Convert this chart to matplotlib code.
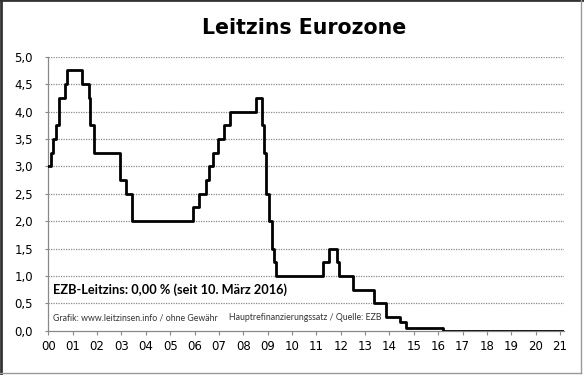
import matplotlib
matplotlib.use('Agg')
import matplotlib.pyplot as plt
from matplotlib.lines import Line2D
import pandas as pd

# EZB Hauptrefinanzierungssatz, Datum der Aenderung und neuer Satz (%)
change_dates = ['1999-11-05', '2000-02-04', '2000-03-17', '2000-04-28', '2000-06-09',
                '2000-09-06', '2000-10-11', '2001-05-15', '2001-08-31', '2001-09-18',
                '2001-11-09', '2002-12-06', '2003-03-07', '2003-06-06', '2005-12-06',
                '2006-03-08', '2006-06-15', '2006-08-09', '2006-10-11', '2006-12-13',
                '2007-03-14', '2007-06-13', '2008-07-09', '2008-10-15', '2008-11-12',
                '2008-12-10', '2009-01-21', '2009-03-11', '2009-04-08', '2009-05-13',
                '2011-04-13', '2011-07-13', '2011-11-09', '2011-12-14', '2012-07-11',
                '2013-05-08', '2013-11-13', '2014-06-11', '2014-09-10', '2016-03-16',
                '2021-03-01']
rates = [3.00, 3.25, 3.50, 3.75, 4.25,
         4.50, 4.75, 4.50, 4.25, 3.75,
         3.25, 2.75, 2.50, 2.00, 2.25,
         2.50, 2.75, 3.00, 3.25, 3.50,
         3.75, 4.00, 4.25, 3.75, 3.25,
         2.50, 2.00, 1.50, 1.25, 1.00,
         1.25, 1.50, 1.25, 1.00, 0.75,
         0.50, 0.25, 0.15, 0.05, 0.00,
         0.00]

years = list(range(2000, 2022))
year_labels = ['%02d' % (y % 100) for y in years]
y_ticks = [0.0, 0.5, 1.0, 1.5, 2.0, 2.5, 3.0, 3.5, 4.0, 4.5, 5.0]
y_labels = [('%.1f' % v).replace('.', ',') for v in y_ticks]

dates = pd.to_datetime(change_dates)

fig = plt.figure(figsize=(5.84, 3.75), dpi=100)
ax = fig.add_axes([0.0827, 0.1181, 0.883, 0.7307])

ax.step(dates, rates, where='post', color='black', lw=2.0, zorder=3)

ax.set_xlim(pd.Timestamp('2000-01-01'), pd.Timestamp('2021-03-01'))
ax.set_ylim(0, 5)

ax.set_xticks([pd.Timestamp('%d-01-01' % y) for y in years])
ax.set_xticklabels(year_labels)
ax.set_yticks(y_ticks)
ax.set_yticklabels(y_labels)
ax.tick_params(axis='x', labelsize=8.5, length=3, width=0.8, color='#888888', pad=4)
ax.tick_params(axis='y', labelsize=8.5, length=2, width=0.8, color='#888888', pad=9)

for v in y_ticks[1:]:
    ax.axhline(v, color='#8a8a8a', lw=0.9, ls=(0, (1, 1)), zorder=1)

for s in ['top', 'right']:
    ax.spines[s].set_visible(False)
for s in ['left', 'bottom']:
    ax.spines[s].set_color('#888888')
    ax.spines[s].set_linewidth(0.9)

ax.text(0.009, 0.1485, 'EZB-Leitzins: 0,00 % (seit 10. März 2016)', transform=ax.transAxes,
        fontsize=9.2, fontweight='bold', family='Lato', ha='left', va='center')
ax.text(0.009, 0.047, 'Grafik: www.leitzinsen.info / ohne Gewähr', transform=ax.transAxes,
        fontsize=6.3, family='Lato', color='#333333', ha='left', va='center')
ax.text(0.350, 0.047, 'Hauptrefinanzierungssatz / Quelle: EZB', transform=ax.transAxes,
        fontsize=6.3, family='Lato', color='#333333', ha='left', va='center')

fig.text(0.5205, 0.925, 'Leitzins Eurozone', fontsize=14.8, fontweight='bold',
         ha='center', va='center')

# Rahmen um die Grafik
fig.add_artist(Line2D([0.001, 0.001], [0, 1], transform=fig.transFigure, color='#333333', lw=2))
fig.add_artist(Line2D([0, 1], [0.999, 0.999], transform=fig.transFigure, color='#333333', lw=2))
fig.add_artist(Line2D([0.995, 0.995], [0.006, 1], transform=fig.transFigure, color='#999999', lw=1))
fig.add_artist(Line2D([0, 0.995], [0.006, 0.006], transform=fig.transFigure, color='#999999', lw=1))

fig.savefig('out.png', dpi=100)
